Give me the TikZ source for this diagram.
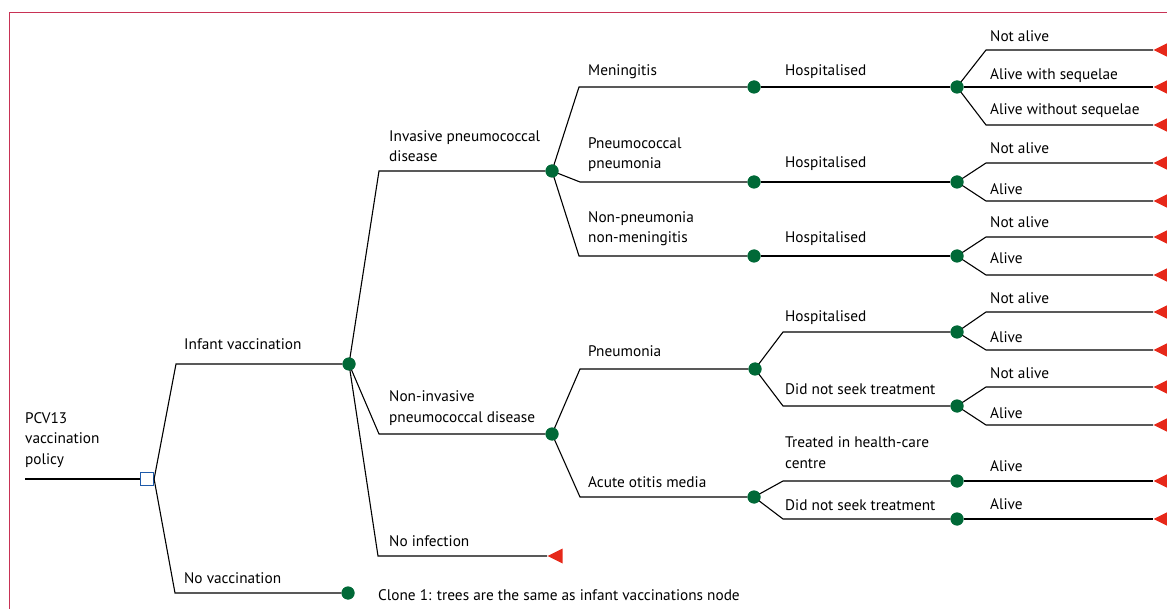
\documentclass[tikz,border=0pt]{standalone}
\usepackage{fontspec}
\setmainfont{PT Sans}
\usetikzlibrary{shapes.geometric}
\definecolor{dotgreen}{RGB}{0,105,55}
\definecolor{termred}{RGB}{230,40,25}
\definecolor{sqblue}{RGB}{30,90,170}
\definecolor{framered}{RGB}{200,50,85}
\begin{document}
\begin{tikzpicture}[x=1pt,y=-1pt,
  br/.style={line width=1.1pt, black},
  chance/.style={circle, fill=dotgreen, inner sep=0, minimum size=13pt},
  decision/.style={rectangle, draw=sqblue, fill=white, line width=1.2pt, inner sep=0, minimum size=13pt},
  term/.style={isosceles triangle, shape border rotate=180, isosceles triangle stretches, fill=termred, inner sep=0, minimum width=15pt, minimum height=15pt, anchor=apex},
  lbl/.style={anchor=base west, inner sep=0, font=\fontsize{15.3}{20.5}\selectfont, align=left},
]
\useasboundingbox (0,0) rectangle (1167,609);
\draw[framered, line width=1pt] (9,609) -- (9,13) -- (1167,13);

% root and decision
\coordinate (r0) at (25,479);
\node[decision] (dec) at (147,479) {};
\draw[br] (r0) -- (dec);
\node[lbl] (lroot) at (25,464) {PCV13\\vaccination\\policy};

% level 1
\coordinate (iv) at (176,364);
\node[chance] (c1) at (349,364) {};
\coordinate (nv) at (175,593);
\node[chance] (c2) at (348,593) {};
\draw[br] (dec.east) -- (iv) -- (c1);
\draw[br] (dec.east) -- (nv) -- (c2);
\node[lbl] (liv) at (184,350) {Infant vaccination};
\node[lbl] (lnv) at (184,583) {No vaccination};
\node[lbl] (lclone) at (378,600) {Clone 1: trees are the same as infant vaccinations node};

% level 2
\coordinate (ipd) at (379,171);
\node[chance] (c3) at (552,171) {};
\coordinate (nipd) at (379,434);
\node[chance] (c4) at (552,434) {};
\coordinate (noinf) at (378,556);
\node[term] (t0) at (547,556) {};
\draw[br] (c1.center) -- (ipd) -- (c3);
\draw[br] (c1.center) -- (nipd) -- (c4);
\draw[br] (c1.center) -- (noinf) -- (t0.apex);
\node[lbl] (lipd) at (389,162) {Invasive pneumococcal\\disease};
\node[lbl] (lnipd) at (389,422) {Non-invasive\\pneumococcal disease};
\node[lbl] (lnoinf) at (389,546) {No infection};

% invasive branch
\coordinate (men) at (579,87);
\node[chance] (c5) at (754,87) {};
\coordinate (pp) at (580,182);
\node[chance] (c6) at (754,182) {};
\coordinate (npnm) at (579,256);
\node[chance] (c7) at (754,256) {};
\draw[br] (c3.center) -- (men) -- (c5);
\draw[br] (c3.center) -- (pp) -- (c6);
\draw[br] (c3.center) -- (npnm) -- (c7);
\node[lbl] (lmen) at (588,76) {Meningitis};
\node[lbl] (lpp) at (588,169) {Pneumococcal\\pneumonia};
\node[lbl] (lnpnm) at (588,243) {Non-pneumonia\\non-meningitis};

\node[chance] (c8) at (957,87) {};
\node[chance] (c9) at (957,182) {};
\node[chance] (c10) at (957,256) {};
\draw[br] (c5) -- (c8);
\draw[br] (c6) -- (c9);
\draw[br] (c7) -- (c10);
\node[lbl] (lh1) at (785,76) {Hospitalised};
\node[lbl] (lh2) at (785,168) {Hospitalised};
\node[lbl] (lh3) at (785,243) {Hospitalised};

% outcomes of meningitis
\coordinate (o1) at (986,50);
\coordinate (o3) at (986,125);
\node[term] (t1) at (1153,50) {};
\node[term] (t2) at (1153,87) {};
\node[term] (t3) at (1153,125) {};
\draw[br] (c8.center) -- (o1) -- (t1.apex);
\draw[br] (c8) -- (t2.apex);
\draw[br] (c8.center) -- (o3) -- (t3.apex);
\node[lbl] (lo1) at (990,42) {Not alive};
\node[lbl] (lo2) at (990,80) {Alive with sequelae};
\node[lbl] (lo3) at (990,115) {Alive without sequelae};

% outcomes of pneumococcal pneumonia
\coordinate (o4) at (986,163);
\coordinate (o5) at (986,201);
\node[term] (t4) at (1153,163) {};
\node[term] (t5) at (1153,201) {};
\draw[br] (c9.center) -- (o4) -- (t4.apex);
\draw[br] (c9.center) -- (o5) -- (t5.apex);
\node[lbl] (lo4) at (990,154) {Not alive};
\node[lbl] (lo5) at (990,195) {Alive};

% outcomes of non-pneumonia non-meningitis
\coordinate (o6) at (986,237);
\coordinate (o7) at (986,275);
\node[term] (t6) at (1153,237) {};
\node[term] (t7) at (1153,275) {};
\draw[br] (c10.center) -- (o6) -- (t6.apex);
\draw[br] (c10.center) -- (o7) -- (t7.apex);
\node[lbl] (lo6) at (990,228) {Not alive};
\node[lbl] (lo7) at (990,264) {Alive};

% non-invasive branch
\coordinate (pn) at (580,369);
\node[chance] (c11) at (755,369) {};
\coordinate (aom) at (580,497);
\node[chance] (c12) at (754,497) {};
\draw[br] (c4.center) -- (pn) -- (c11);
\draw[br] (c4.center) -- (aom) -- (c12);
\node[lbl] (lpn) at (588,356) {Pneumonia};
\node[lbl] (laom) at (588,487) {Acute otitis media};

\coordinate (hos) at (783,332);
\node[chance] (c13) at (957,332) {};
\coordinate (dns1) at (783,406);
\node[chance] (c14) at (957,406) {};
\draw[br] (c11.center) -- (hos) -- (c13);
\draw[br] (c11.center) -- (dns1) -- (c14);
\node[lbl] (lh4) at (785,322) {Hospitalised};
\node[lbl] (ldns1) at (785,395) {Did not seek treatment};

\coordinate (trt) at (783,481);
\node[chance] (c15) at (957,481) {};
\coordinate (dns2) at (783,519);
\node[chance] (c16) at (957,519) {};
\draw[br] (c12.center) -- (trt) -- (c15);
\draw[br] (c12.center) -- (dns2) -- (c16);
\node[lbl] (ltrt) at (785,468) {Treated in health-care\\centre};
\node[lbl] (ldns2) at (785,510) {Did not seek treatment};

% outcomes of pneumonia
\coordinate (o8) at (986,312);
\coordinate (o9) at (986,350);
\coordinate (o10) at (986,387);
\coordinate (o11) at (986,425);
\node[term] (t8) at (1153,312) {};
\node[term] (t9) at (1153,350) {};
\node[term] (t10) at (1153,387) {};
\node[term] (t11) at (1153,425) {};
\draw[br] (c13.center) -- (o8) -- (t8.apex);
\draw[br] (c13.center) -- (o9) -- (t9.apex);
\draw[br] (c14.center) -- (o10) -- (t10.apex);
\draw[br] (c14.center) -- (o11) -- (t11.apex);
\node[lbl] (lo8) at (990,304) {Not alive};
\node[lbl] (lo9) at (990,343) {Alive};
\node[lbl] (lo10) at (990,379) {Not alive};
\node[lbl] (lo11) at (990,418) {Alive};

% outcomes of acute otitis media
\node[term] (t12) at (1153,481) {};
\node[term] (t13) at (1153,519) {};
\draw[br] (c15) -- (t12.apex);
\draw[br] (c16) -- (t13.apex);
\node[lbl] (lo12) at (990,471) {Alive};
\node[lbl] (lo13) at (990,509) {Alive};

% redraw dots on top
\foreach \n in {c1,c2,c3,c4,c5,c6,c7,c8,c9,c10,c11,c12,c13,c14,c15,c16}
  \fill[dotgreen] (\n) circle (6.5pt);
\end{tikzpicture}
\end{document}
